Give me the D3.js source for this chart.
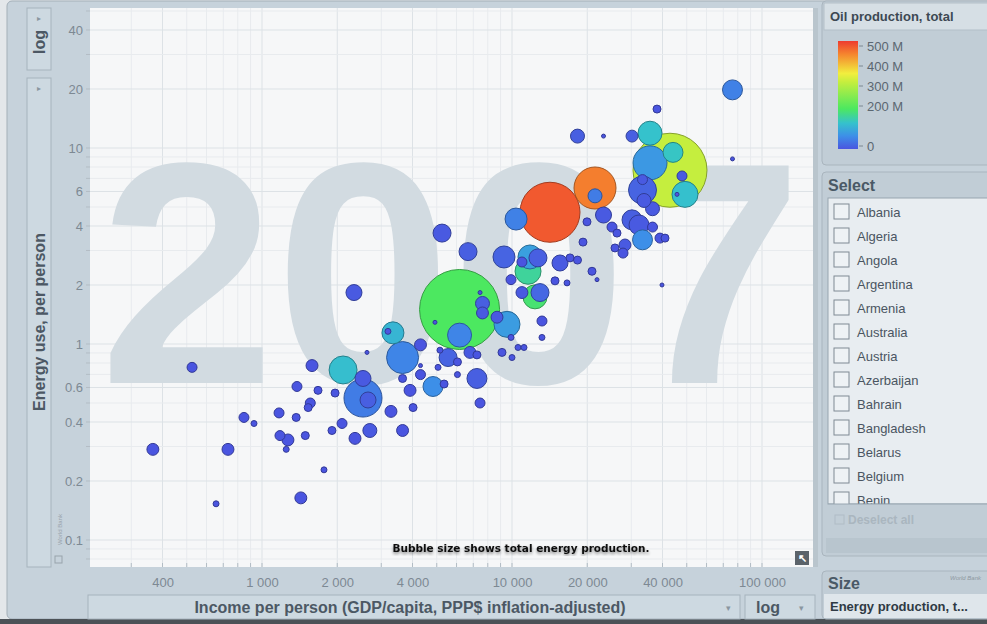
<!DOCTYPE html>
<html>
<head>
<meta charset="utf-8">
<script src="https://cdn.jsdelivr.net/npm/d3@7"></script>
<style>
  body { margin: 0; background: #e3e7ea; }
  svg { display: block; font-family: "Liberation Sans", Arial, sans-serif; }
</style>
</head>
<body>
<svg id="chart"></svg>
<script>
// Bubble data (one entry per country bubble)
const income = [6170, 42850, 14190, 21480, 2535, 35650, 3650, 2110, 33270, 49200,
  11590, 9550, 35650, 44060, 3340, 6170, 11800, 12360, 12940, 10380,
  9290, 6670, 5250, 2333, 76200, 18280, 30200, 38020, 23230, 76200,
  47860, 45710, 33270, 36480, 33730, 21480, 23230, 19950, 25120, 26300,
  30200, 32210, 36480, 39080, 40930, 33270, 28310, 25820, 27800, 19230,
  12700, 10960, 15560, 17060, 18280, 20890, 21880, 39810, 9910, 14860,
  16600, 10960, 13180, 13180, 10570, 11170, 7620, 7620, 8710, 7450,
  9910, 4920, 525, 366, 731, 655, 1430, 1770, 847, 929,
  1170, 1370, 1180, 1270, 1250, 1490, 1380, 1675, 1585, 1560,
  1530, 1960, 2535, 2655, 2090, 1905, 2355, 2700, 2630, 4305,
  3650, 4305, 4305, 3910, 3280, 4020, 3650, 4830, 5350, 5550,
  6050, 5150, 5060, 6050, 6790, 7240, 7240, 7450, 9120, 10000, 3190];
const energyUse = [1.5, 7.7, 4.7, 6.25, 0.53, 8.4, 0.853, 0.737, 6.1, 5.8,
  2.35, 1.26, 11.9, 9.5, 1.14, 1.11, 2.78, 1.74, 1.83, 4.34,
  2.78, 2.96, 3.68, 1.83, 19.8, 11.5, 11.5, 15.8, 11.5, 8.8,
  7.2, 5.8, 6.9, 4.9, 5.4, 5.7, 4.55, 4.2, 3.95, 3.68,
  4.3, 4.05, 3.95, 3.47, 3.47, 3.4, 3.2, 3.09, 2.91, 3.31,
  2.75, 2.62, 2.59, 2.75, 2.68, 2.35, 2.13, 2.0, 2.13, 2.1,
  2.05, 1.83, 1.31, 1.08, 0.96, 0.96, 1.61, 1.44, 1.37, 1.83,
  1.08, 1.29, 0.76, 0.29, 0.29, 0.153, 0.164, 0.228, 0.422, 0.393,
  0.445, 0.422, 0.341, 0.324, 0.29, 0.341, 0.607, 0.58, 0.776, 0.5,
  0.474, 0.562, 0.667, 0.518, 0.393, 0.362, 0.33, 0.362, 0.906, 0.99,
  0.667, 0.698, 0.776, 0.58, 0.453, 0.474, 0.362, 0.607, 0.625, 0.853,
  0.81, 0.93, 0.76, 0.698, 0.906, 0.88, 0.667, 0.5, 0.906, 0.853, 1.16];
const energyProd = [1800, 1540, 1013, 496, 406, 325, 288, 220, 220, 190,
  190, 190, 162, 112, 136, 162, 162, 162, 91, 136,
  136, 91, 91, 72, 112, 55, 40, 18, 4.5, 4.5,
  28, 4.5, 28, 55, 55, 55, 72, 18, 28, 18,
  112, 112, 28, 28, 18, 112, 40, 18, 28, 18,
  91, 28, 72, 18, 18, 18, 4.5, 4.5, 28, 18,
  10, 40, 28, 10, 10, 10, 55, 40, 40, 4.5,
  10, 4.5, 28, 40, 40, 10, 40, 10, 28, 10,
  28, 18, 28, 40, 10, 18, 28, 18, 40, 28,
  18, 18, 72, 72, 28, 18, 40, 55, 4.5, 40,
  18, 28, 4.5, 40, 40, 18, 40, 112, 18, 91,
  18, 10, 10, 10, 40, 18, 112, 28, 18, 10, 10];
const oilProd = [186, 310, 475, 445, 40, 70, 50, 115, 15, 118,
  150, 75, 120, 125, 105, 50, 80, 175, 20, 45,
  15, 10, 5, 5, 45, 10, 10, 0, 0, 0,
  5, 0, 5, 5, 5, 40, 5, 0, 0, 0,
  10, 5, 0, 0, 0, 60, 5, 0, 0, 0,
  10, 0, 5, 0, 0, 0, 0, 0, 0, 0,
  0, 5, 0, 0, 0, 0, 10, 5, 5, 0,
  0, 0, 0, 0, 0, 0, 0, 0, 0, 0,
  0, 0, 0, 0, 0, 0, 0, 0, 0, 0,
  0, 0, 5, 10, 0, 0, 0, 5, 0, 0,
  0, 0, 0, 0, 0, 0, 0, 60, 0, 15,
  0, 0, 0, 0, 5, 0, 10, 0, 0, 0, 0];

// Axis ticks and legend
const incomeTicks = [400, 1000, 2000, 4000, 10000, 20000, 40000, 100000];
const energyTicks = [0.1, 0.2, 0.4, 0.6, 1, 2, 4, 6, 10, 20, 40];
const oilStops = [0, 60, 120, 186, 310, 350, 440, 500];
const oilColors = ["#4a55e0", "#3d8fe8", "#35c2cc", "#4ce860", "#c5ee3e", "#f2ee3e", "#f5842e", "#ee3b2f"];
const legendTicks = [0, 200, 300, 400, 500];
const countries = ["Albania", "Algeria", "Angola", "Argentina", "Armenia", "Australia", "Austria",
  "Azerbaijan", "Bahrain", "Bangladesh", "Belarus", "Belgium", "Benin"];
const year = "2007";

const width = 987;
const height = 624;
const plot = { left: 90, top: 8, right: 813, bottom: 567 };

const svg = d3.select('#chart').attr('width', width).attr('height', height);

// Frame background
svg.append('rect').attr('width', width).attr('height', height).attr('fill', '#e3e7ea');
svg.append('rect').attr('x', 7).attr('y', 1).attr('width', 990).attr('height', 618)
  .attr('rx', 5).attr('fill', '#c6d2db').attr('stroke', '#a3afb8');
svg.append('rect').attr('x', 0).attr('y', 619).attr('width', width).attr('height', 5).attr('fill', '#4c5257');

// Scales
const xScale = d3.scaleLog().domain([1000, 100000]).range([262, 762]);
const yScale = d3.scaleLog().domain([0.1, 10]).range([540, 148]);
const rScale = d3.scaleSqrt().domain([0, 1800]).range([0, 40]);
const color = d3.scaleLinear().domain(oilStops).range(oilColors).clamp(true);

// Plot area
svg.append('rect')
  .attr('x', plot.left).attr('y', plot.top)
  .attr('width', plot.right - plot.left).attr('height', plot.bottom - plot.top)
  .attr('fill', '#f6f7f8');
svg.append('rect').attr('x', plot.right).attr('y', plot.top).attr('width', 5)
  .attr('height', plot.bottom - plot.top).attr('fill', '#b9c5cd');

// Grid lines at every 1..9 step of each decade
const xGrid = [];
const yGrid = [];
for (let n = 2; n <= 5; n++) {
  for (let k = 1; k <= 9; k++) {
    const v = k * Math.pow(10, n);
    if (xScale(v) > plot.left && xScale(v) < plot.right) xGrid.push(v);
  }
}
for (let n = -2; n <= 1; n++) {
  for (let k = 1; k <= 9; k++) {
    const v = +(k * Math.pow(10, n)).toPrecision(3);
    if (yScale(v) > plot.top && yScale(v) < plot.bottom) yGrid.push(v);
  }
}
const grid = svg.append('g');
grid.selectAll('.vgrid').data(xGrid).join('line')
  .attr('x1', d => xScale(d)).attr('x2', d => xScale(d))
  .attr('y1', plot.top).attr('y2', plot.bottom)
  .attr('stroke', d => incomeTicks.includes(d) ? '#dde2e6' : '#e8ebee').attr('stroke-width', 1);
grid.selectAll('.hgrid').data(yGrid).join('line')
  .attr('x1', plot.left).attr('x2', plot.right)
  .attr('y1', d => yScale(d)).attr('y2', d => yScale(d))
  .attr('stroke', d => energyTicks.includes(d) ? '#dde2e6' : '#e8ebee').attr('stroke-width', 1);

// Big year in the background
svg.append('text')
  .attr('x', 451).attr('y', 383)
  .attr('text-anchor', 'middle')
  .attr('font-size', 316).attr('font-weight', 'bold')
  .attr('fill', '#d2dbe1')
  .text(year);

// Bubbles, biggest first so the small ones stay on top
const bubbles = income.map((d, i) => ({
  income: d, energy: energyUse[i], prod: energyProd[i], oil: oilProd[i]
})).sort((a, b) => b.prod - a.prod);

svg.append('g').selectAll('circle').data(bubbles).join('circle')
  .attr('cx', d => xScale(d.income))
  .attr('cy', d => yScale(d.energy))
  .attr('r', d => rScale(d.prod))
  .attr('fill', d => color(d.oil))
  .attr('stroke', d => d3.color(color(d.oil)).darker(1.1))
  .attr('stroke-width', 1);

// Axes
const fmtThousands = d3.formatLocale({ decimal: '.', thousands: '\u2009', grouping: [3], currency: ['$', ''] }).format(',');
const xAxis = d3.axisBottom(xScale).tickValues(incomeTicks)
  .tickFormat(d => fmtThousands(d).replace('\u2009', ' ')).tickSize(0).tickPadding(11);
const yAxis = d3.axisLeft(yScale).tickValues(energyTicks)
  .tickFormat(d3.format('~g')).tickSize(0).tickPadding(7);

const gx = svg.append('g').attr('transform', `translate(0, ${plot.bottom})`).call(xAxis);
const gy = svg.append('g').attr('transform', `translate(${plot.left}, 0)`).call(yAxis);
[gx, gy].forEach(g => {
  g.select('.domain').remove();
  g.selectAll('text').attr('fill', '#7d8993').attr('font-size', 13)
    .attr('font-family', '"Liberation Sans", Arial, sans-serif');
});

// Minor tick marks along the edges
svg.append('g').selectAll('line').data(xGrid).join('line')
  .attr('x1', d => xScale(d)).attr('x2', d => xScale(d))
  .attr('y1', plot.bottom - 4).attr('y2', plot.bottom)
  .attr('stroke', '#b3bdc5');
svg.append('g').selectAll('line').data(yGrid).join('line')
  .attr('x1', plot.left - 4).attr('x2', plot.left)
  .attr('y1', d => yScale(d)).attr('y2', d => yScale(d))
  .attr('stroke', '#b3bdc5');

// Y axis control boxes
svg.append('rect').attr('x', 27).attr('y', 8).attr('width', 24).attr('height', 62)
  .attr('fill', '#cdd9e1').attr('stroke', '#a6b3bd');
svg.append('text').attr('transform', 'translate(45, 42) rotate(-90)')
  .attr('text-anchor', 'middle').attr('font-size', 16).attr('font-weight', 'bold')
  .attr('fill', '#4c5864').text('log');
svg.append('text').attr('x', 39).attr('y', 21).attr('text-anchor', 'middle')
  .attr('font-size', 8).attr('fill', '#8a96a0').text('\u25B8');

svg.append('rect').attr('x', 27).attr('y', 78).attr('width', 24).attr('height', 489)
  .attr('fill', '#cdd9e1').attr('stroke', '#a6b3bd');
svg.append('text').attr('transform', 'translate(45, 322) rotate(-90)')
  .attr('text-anchor', 'middle').attr('font-size', 16).attr('font-weight', 'bold')
  .attr('fill', '#4c5864').text('Energy use, per person');
svg.append('text').attr('x', 39).attr('y', 91).attr('text-anchor', 'middle')
  .attr('font-size', 8).attr('fill', '#8a96a0').text('\u25B8');

svg.append('text').attr('transform', 'translate(62, 545) rotate(-90)')
  .attr('font-size', 6).attr('fill', '#98a3ac').text('World Bank');
svg.append('rect').attr('x', 55).attr('y', 556).attr('width', 7).attr('height', 7)
  .attr('fill', 'none').attr('stroke', '#98a3ac');

// X axis control boxes
svg.append('rect').attr('x', 88).attr('y', 595).attr('width', 652).attr('height', 24)
  .attr('fill', '#cdd9e1').attr('stroke', '#a6b3bd');
svg.append('text').attr('x', 410).attr('y', 613).attr('text-anchor', 'middle')
  .attr('font-size', 16).attr('font-weight', 'bold').attr('fill', '#4c5864')
  .text('Income per person (GDP/capita, PPP$ inflation-adjusted)');
svg.append('text').attr('x', 728).attr('y', 611).attr('text-anchor', 'middle')
  .attr('font-size', 9).attr('fill', '#8a96a0').text('\u25BE');
svg.append('rect').attr('x', 745).attr('y', 595).attr('width', 70).attr('height', 24)
  .attr('fill', '#cdd9e1').attr('stroke', '#a6b3bd');
svg.append('text').attr('x', 768).attr('y', 613).attr('text-anchor', 'middle')
  .attr('font-size', 16).attr('font-weight', 'bold').attr('fill', '#4c5864').text('log');
svg.append('text').attr('x', 801).attr('y', 611).attr('text-anchor', 'middle')
  .attr('font-size', 9).attr('fill', '#8a96a0').text('\u25BE');

// Size note at the bottom of the plot
const defs = svg.append('defs');
defs.append('filter').attr('id', 'shadow')
  .append('feDropShadow').attr('dx', 0).attr('dy', 2).attr('stdDeviation', 1.5)
  .attr('flood-color', '#000').attr('flood-opacity', 0.45);
svg.append('text').attr('x', 521).attr('y', 552).attr('text-anchor', 'middle')
  .attr('font-family', '"DejaVu Sans", Verdana, sans-serif')
  .attr('font-size', 10.5).attr('font-weight', 'bold').attr('fill', '#111')
  .attr('filter', 'url(#shadow)')
  .text('Bubble size shows total energy production.');
svg.append('rect').attr('x', 795).attr('y', 551).attr('width', 14).attr('height', 14)
  .attr('fill', '#5b636a');
svg.append('text').attr('x', 802).attr('y', 562).attr('text-anchor', 'middle')
  .attr('font-size', 11).attr('font-weight', 'bold').attr('fill', '#fff').text('\u2196');

// Right panel: colour legend
svg.append('rect').attr('x', 822).attr('y', 1).attr('width', 170).attr('height', 164)
  .attr('rx', 4).attr('fill', '#c1cdd6').attr('stroke', '#a9b5be');
svg.append('rect').attr('x', 824).attr('y', 3).attr('width', 168).attr('height', 27)
  .attr('fill', '#d6dfe5').attr('stroke', '#b3bfc8');
svg.append('text').attr('x', 830).attr('y', 21).attr('font-size', 13).attr('font-weight', 'bold')
  .attr('fill', '#3d4953').text('Oil production, total');

const legendY = d3.scaleLinear().domain([0, 500]).range([146, 46]);
const grad = defs.append('linearGradient').attr('id', 'oilgrad')
  .attr('x1', 0).attr('y1', 1).attr('x2', 0).attr('y2', 0);
oilStops.forEach((s, i) => {
  grad.append('stop').attr('offset', s / 500).attr('stop-color', oilColors[i]);
});
svg.append('rect').attr('x', 838).attr('y', legendY(500) - 5).attr('width', 20)
  .attr('height', legendY(0) - legendY(500) + 8).attr('fill', 'url(#oilgrad)');
svg.append('g').selectAll('text').data(legendTicks).join('text')
  .attr('x', 867).attr('y', d => legendY(d) + 5)
  .attr('font-size', 13).attr('fill', '#5b6771')
  .text(d => d === 0 ? '0' : d + ' M');
svg.append('g').selectAll('line').data(legendTicks).join('line')
  .attr('x1', 859).attr('x2', 863)
  .attr('y1', d => legendY(d)).attr('y2', d => legendY(d))
  .attr('stroke', '#7d8993');

// Right panel: country list
svg.append('rect').attr('x', 822).attr('y', 172).attr('width', 170).attr('height', 384)
  .attr('rx', 4).attr('fill', '#c1cdd6').attr('stroke', '#a9b5be');
svg.append('text').attr('x', 828).attr('y', 191).attr('font-size', 16).attr('font-weight', 'bold')
  .attr('fill', '#4a5966').text('Select');
svg.append('rect').attr('x', 828).attr('y', 198).attr('width', 162).attr('height', 306)
  .attr('fill', '#e8edf1').attr('stroke', '#98a6b0');
const list = svg.append('g');
const items = list.selectAll('g').data(countries).join('g')
  .attr('transform', (d, i) => `translate(0, ${212 + i * 24})`);
items.append('rect').attr('x', 834).attr('y', -8).attr('width', 15).attr('height', 15)
  .attr('fill', '#eef2f5').attr('stroke', '#7f8a94');
items.append('text').attr('x', 857).attr('y', 5).attr('font-size', 13)
  .attr('fill', '#4a5561').text(d => d);
// cover the last, clipped row below the list box
svg.append('rect').attr('x', 828).attr('y', 504).attr('width', 162).attr('height', 10)
  .attr('fill', '#c1cdd6');
svg.append('line').attr('x1', 828).attr('x2', 990).attr('y1', 504).attr('y2', 504)
  .attr('stroke', '#98a6b0');

svg.append('rect').attr('x', 835).attr('y', 515).attr('width', 9).attr('height', 9)
  .attr('fill', 'none').attr('stroke', '#b0bcc5');
svg.append('text').attr('x', 848).attr('y', 524).attr('font-size', 12).attr('font-weight', 'bold')
  .attr('fill', '#aab6bf').text('Deselect all');
svg.append('rect').attr('x', 826).attr('y', 538).attr('width', 166).attr('height', 15)
  .attr('fill', '#b8c5ce');

// Right panel: size selector
svg.append('rect').attr('x', 822).attr('y', 571).attr('width', 170).attr('height', 48)
  .attr('rx', 4).attr('fill', '#c1cdd6').attr('stroke', '#a9b5be');
svg.append('text').attr('x', 828).attr('y', 589).attr('font-size', 16).attr('font-weight', 'bold')
  .attr('fill', '#4a5966').text('Size');
svg.append('text').attr('x', 950).attr('y', 580).attr('font-size', 6).attr('font-style', 'italic')
  .attr('fill', '#8d98a1').text('World Bank');
svg.append('rect').attr('x', 824).attr('y', 594).attr('width', 168).attr('height', 24)
  .attr('fill', '#dfe6eb');
svg.append('text').attr('x', 830).attr('y', 611).attr('font-size', 13).attr('font-weight', 'bold')
  .attr('fill', '#2f3a44').text('Energy production, t...');
</script>
</body>
</html>
